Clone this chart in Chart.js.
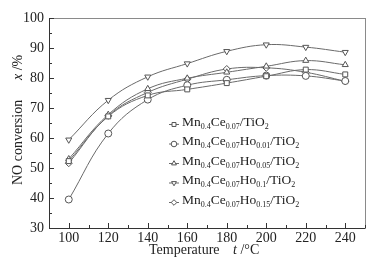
<!DOCTYPE html>
<html>
<head>
<meta charset="utf-8">
<script src="https://cdn.jsdelivr.net/npm/chart.js@4/dist/chart.umd.min.js"></script>
<style>
  html, body { margin: 0; padding: 0; background: #fff; }
  #wrap { width: 382px; height: 261px; position: relative; }
</style>
</head>
<body>
<div id="wrap"><canvas id="chart" width="382" height="261"></canvas></div>
<script>
// Data
const temps = [100, 120, 140, 160, 180, 200, 220, 240];
const mnCe = [52.3, 67.2, 74.2, 76.2, 78.3, 80.6, 82.8, 81.2];
const ho001 = [39.5, 61.5, 72.8, 77.6, 79.4, 80.8, 80.7, 79.0];
const ho005 = [53.0, 67.8, 76.4, 79.9, 81.9, 83.9, 85.8, 84.4];
const ho01 = [59.4, 72.6, 80.4, 84.8, 88.9, 91.1, 90.3, 88.6];
const ho015 = [51.6, 67.4, 75.2, 79.6, 83.0, 83.4, 81.9, 78.9];

const xTickLabels = [100, 120, 140, 160, 180, 200, 220, 240];
const yTickLabels = [30, 40, 50, 60, 70, 80, 90, 100];

// legend text pieces: [text, isSubscript]
const legendNames = [
    [['Mn', 0], ['0.4', 1], ['Ce', 0], ['0.07', 1], ['/TiO', 0], ['2', 1]],
    [['Mn', 0], ['0.4', 1], ['Ce', 0], ['0.07', 1], ['Ho', 0], ['0.01', 1], ['/TiO', 0], ['2', 1]],
    [['Mn', 0], ['0.4', 1], ['Ce', 0], ['0.07', 1], ['Ho', 0], ['0.05', 1], ['/TiO', 0], ['2', 1]],
    [['Mn', 0], ['0.4', 1], ['Ce', 0], ['0.07', 1], ['Ho', 0], ['0.1', 1], ['/TiO', 0], ['2', 1]],
    [['Mn', 0], ['0.4', 1], ['Ce', 0], ['0.07', 1], ['Ho', 0], ['0.15', 1], ['/TiO', 0], ['2', 1]]
];

const FONT = '"Liberation Serif", "Times New Roman", serif';
const lineColor = '#6a6a6a';
const markColor = '#555';
const textColor = '#222';

function series(values, style, rotation) {
    return {
        data: values.map((v, i) => ({ x: temps[i], y: v })),
        borderColor: lineColor,
        borderWidth: 1,
        tension: 0.4,
        pointStyle: style,
        rotation: rotation || 0,
        pointRadius: 3.5,
        pointBorderWidth: 1,
        pointBorderColor: markColor,
        pointBackgroundColor: '#fff',
        fill: false
    };
}

const datasets = [
    series(mnCe, 'rect'),
    series(ho001, 'circle'),
    series(ho005, 'triangle'),
    series(ho01, 'triangle', 180),
    series(ho015, 'rectRot')
];

// draw a run of text pieces, subscripts smaller and lower
function drawRich(ctx, pieces, x, y, size) {
    ctx.textBaseline = 'alphabetic';
    ctx.textAlign = 'left';
    pieces.forEach(p => {
        const sub = p[1] === 1;
        const fs = sub ? Math.round(size * 0.62) : size;
        ctx.font = (p[2] === 'i' ? 'italic ' : '') + fs + 'px ' + FONT;
        ctx.fillText(p[0], x, y + (sub ? 3 : 0));
        x += ctx.measureText(p[0]).width;
    });
    return x;
}

const decorPlugin = {
    id: 'decor',
    afterDatasetsDraw(chart) {
        const ctx = chart.ctx;
        const a = chart.chartArea;
        const xs = chart.scales.x;
        const ys = chart.scales.y;
        ctx.save();

        // frame
        ctx.strokeStyle = '#8a8a8a';
        ctx.lineWidth = 1;
        ctx.strokeRect(Math.round(a.left) + 0.5, Math.round(a.top) + 0.5,
            Math.round(a.right - a.left), Math.round(a.bottom - a.top));
        ctx.strokeStyle = '#333';
        ctx.beginPath();
        ctx.moveTo(Math.round(a.left) + 0.5, Math.round(a.top));
        ctx.lineTo(Math.round(a.left) + 0.5, Math.round(a.bottom) + 0.5);
        ctx.lineTo(Math.round(a.right), Math.round(a.bottom) + 0.5);
        ctx.stroke();

        // inward ticks
        ctx.beginPath();
        for (let v = 90; v <= 250; v += 10) {
            const px = Math.round(xs.getPixelForValue(v)) + 0.5;
            const len = v % 20 === 0 ? 5 : 3;
            ctx.moveTo(px, a.bottom);
            ctx.lineTo(px, a.bottom - len);
        }
        for (let v = 30; v <= 100; v += 5) {
            const py = Math.round(ys.getPixelForValue(v)) + 0.5;
            const len = v % 10 === 0 ? 5 : 3;
            ctx.moveTo(a.left, py);
            ctx.lineTo(a.left + len, py);
        }
        ctx.stroke();

        ctx.fillStyle = textColor;

        // x axis title
        drawRich(ctx, [['Temperature', 0]], 149, 254, 14);
        drawRich(ctx, [['t', 0, 'i'], [' /\u00B0C', 0]], 233, 254, 14);

        // y axis title
        ctx.save();
        ctx.translate(22, 185);
        ctx.rotate(-Math.PI / 2);
        drawRich(ctx, [['NO conversion', 0]], 0, 0, 14);
        drawRich(ctx, [['x', 0, 'i'], [' /%', 0]], 105, 0, 14);
        ctx.restore();

        // legend
        const rowY = [124.5, 144, 163.5, 183, 202.5];
        datasets.forEach((ds, i) => {
            const y = rowY[i];
            ctx.strokeStyle = lineColor;
            ctx.lineWidth = 1;
            ctx.beginPath();
            ctx.moveTo(169, y);
            ctx.lineTo(179, y);
            ctx.stroke();
            ctx.strokeStyle = markColor;
            ctx.fillStyle = '#fff';
            Chart.helpers.drawPoint(ctx, {
                pointStyle: ds.pointStyle,
                rotation: ds.rotation,
                radius: 2.8,
                borderWidth: 1
            }, 174, y);
            ctx.fillStyle = textColor;
            drawRich(ctx, legendNames[i], 182, y + 1, 13.5);
        });

        ctx.restore();
    }
};

new Chart(document.getElementById('chart'), {
    type: 'line',
    data: { datasets: datasets },
    options: {
        responsive: false,
        animation: false,
        layout: { padding: { top: 18, right: 17, left: 0, bottom: 0 } },
        plugins: {
            legend: { display: false },
            tooltip: { enabled: false }
        },
        scales: {
            x: {
                type: 'linear',
                min: 90,
                max: 250,
                border: { display: false },
                grid: { display: false, drawTicks: false },
                afterFit: s => { s.height = 33; },
                afterBuildTicks: s => { s.ticks = xTickLabels.map(v => ({ value: v })); },
                ticks: {
                    autoSkip: false,
                    maxRotation: 0,
                    padding: 2,
                    color: textColor,
                    font: { family: FONT, size: 14 }
                }
            },
            y: {
                min: 30,
                max: 100,
                border: { display: false },
                grid: { display: false, drawTicks: false },
                afterFit: s => { s.width = 49; },
                afterBuildTicks: s => { s.ticks = yTickLabels.map(v => ({ value: v })); },
                ticks: {
                    padding: 5,
                    color: textColor,
                    font: { family: FONT, size: 14 }
                }
            }
        }
    },
    plugins: [decorPlugin]
});
</script>
</body>
</html>
